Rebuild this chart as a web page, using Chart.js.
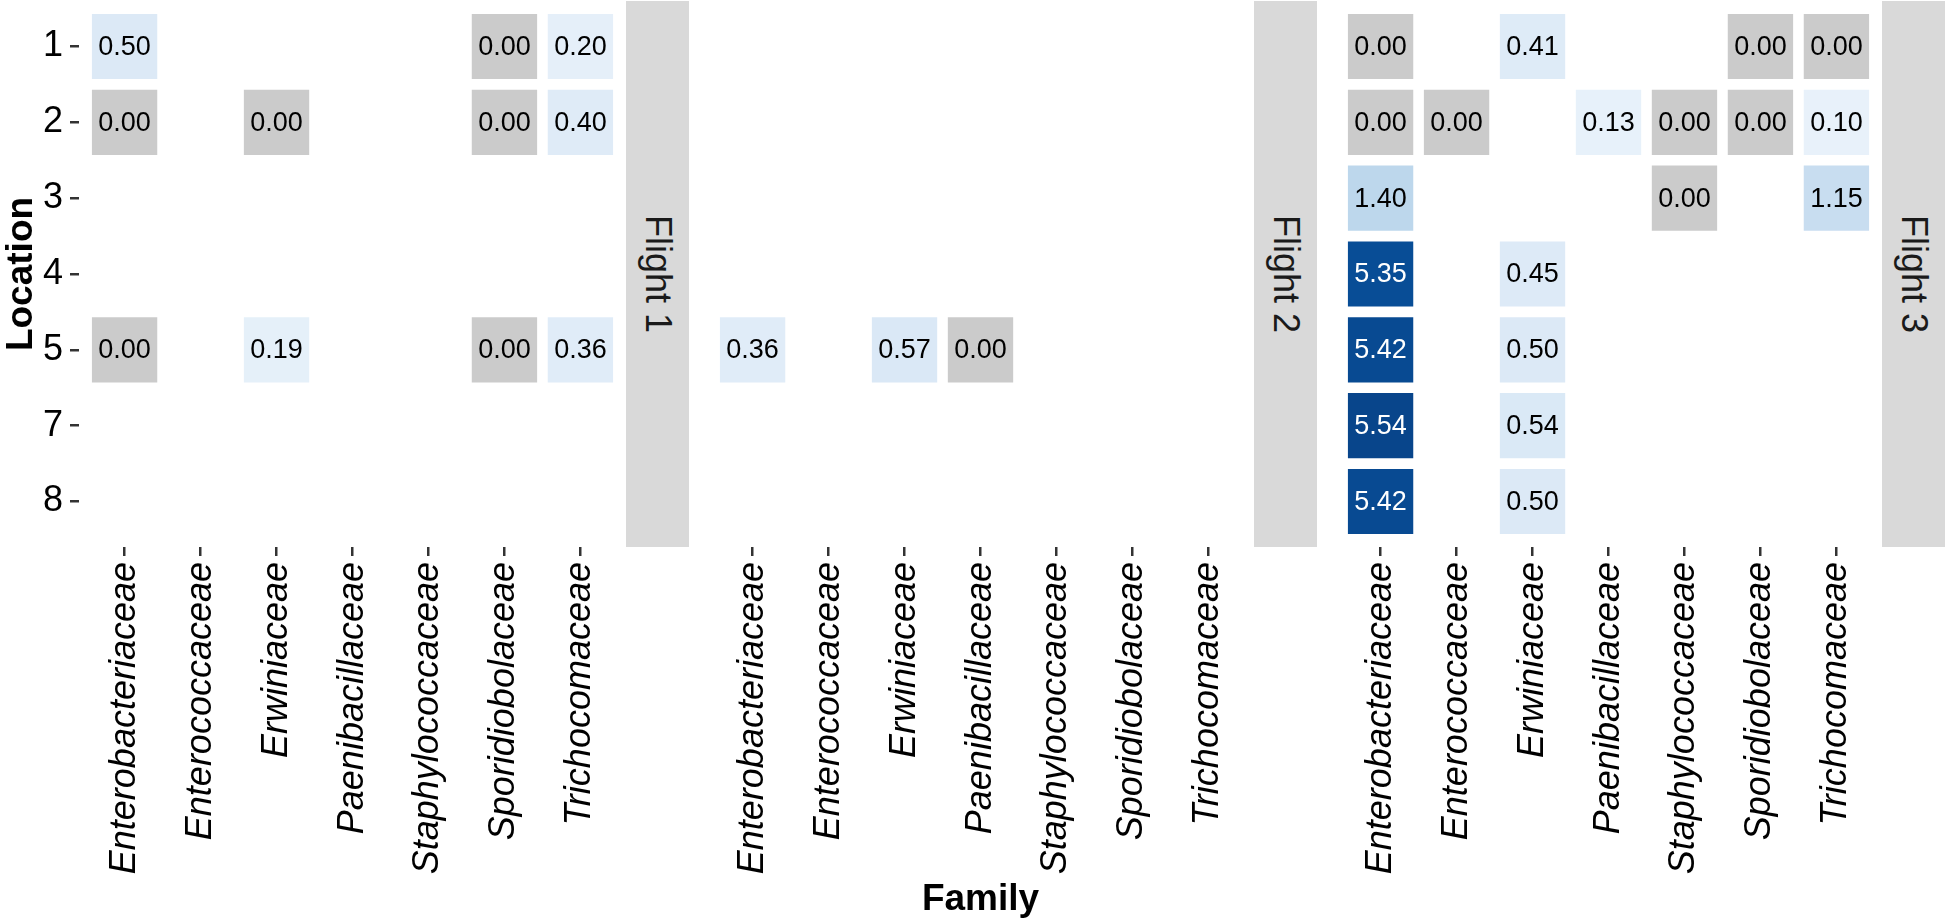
<!DOCTYPE html>
<html>
<head>
<meta charset="utf-8">
<script src="https://cdn.jsdelivr.net/npm/chart.js@4"></script>
<style>
  html, body { margin: 0; padding: 0; background: #fff; }
  #wrap { position: relative; width: 1951px; height: 924px; overflow: hidden; }
  canvas { position: absolute; top: 0; }
  .strip {
    position: absolute; top: 1px; height: 546px; width: 63px;
    background: #d9d9d9; color: #1a1a1a;
    font-family: "Liberation Sans", Arial, sans-serif; font-size: 36px;
    display: flex; align-items: center; justify-content: center;
    writing-mode: vertical-rl;
  }
</style>
</head>
<body>
<div id="wrap">
  <canvas id="c1" width="626" height="924" style="left:0px"></canvas>
  <canvas id="c2" width="547" height="924" style="left:707px"></canvas>
  <canvas id="c3" width="547" height="924" style="left:1335px"></canvas>
  <div class="strip" style="left:626px">Flight 1</div>
  <div class="strip" style="left:1254px">Flight 2</div>
  <div class="strip" style="left:1882px">Flight 3</div>
</div>
<script>
const families = ['Enterobacteriaceae', 'Enterococcaceae', 'Erwiniaceae', 'Paenibacillaceae',
  'Staphylococcaceae', 'Sporidiobolaceae', 'Trichocomaceae'];
const locations = ['1', '2', '3', '4', '5', '7', '8'];

const flight1Family = ['Enterobacteriaceae', 'Sporidiobolaceae', 'Trichocomaceae',
  'Enterobacteriaceae', 'Erwiniaceae', 'Sporidiobolaceae', 'Trichocomaceae',
  'Enterobacteriaceae', 'Erwiniaceae', 'Sporidiobolaceae', 'Trichocomaceae'];
const flight1Location = ['1', '1', '1', '2', '2', '2', '2', '5', '5', '5', '5'];
const flight1Value = [0.50, 0.00, 0.20, 0.00, 0.00, 0.00, 0.40, 0.00, 0.19, 0.00, 0.36];

const flight2Family = ['Enterobacteriaceae', 'Erwiniaceae', 'Paenibacillaceae'];
const flight2Location = ['5', '5', '5'];
const flight2Value = [0.36, 0.57, 0.00];

const flight3Family = ['Enterobacteriaceae', 'Erwiniaceae', 'Sporidiobolaceae', 'Trichocomaceae',
  'Enterobacteriaceae', 'Enterococcaceae', 'Paenibacillaceae', 'Staphylococcaceae', 'Sporidiobolaceae', 'Trichocomaceae',
  'Enterobacteriaceae', 'Staphylococcaceae', 'Trichocomaceae',
  'Enterobacteriaceae', 'Erwiniaceae',
  'Enterobacteriaceae', 'Erwiniaceae',
  'Enterobacteriaceae', 'Erwiniaceae',
  'Enterobacteriaceae', 'Erwiniaceae'];
const flight3Location = ['1', '1', '1', '1', '2', '2', '2', '2', '2', '2', '3', '3', '3',
  '4', '4', '5', '5', '7', '7', '8', '8'];
const flight3Value = [0.00, 0.41, 0.00, 0.00, 0.00, 0.00, 0.13, 0.00, 0.00, 0.10,
  1.40, 0.00, 1.15, 5.35, 0.45, 5.42, 0.50, 5.54, 0.54, 5.42, 0.50];

const FONT = '"Liberation Sans", Arial, sans-serif';
const blues = ['#f7fbff', '#deebf7', '#c6dbef', '#9ecae1', '#6baed6', '#4292c6', '#2171b5', '#08519c', '#08306b'];

function hexToRgb(h) {
  return [parseInt(h.slice(1, 3), 16), parseInt(h.slice(3, 5), 16), parseInt(h.slice(5, 7), 16)];
}

// grey for zero, otherwise a Blues ramp
function fillFor(v) {
  if (v === 0) return '#cbcbcb';
  const t = Math.min(1, 0.06 + 0.155 * v) * (blues.length - 1);
  const i = Math.min(Math.floor(t), blues.length - 2);
  const f = t - i;
  const a = hexToRgb(blues[i]), b = hexToRgb(blues[i + 1]);
  const c = a.map((x, k) => Math.round(x + (b[k] - x) * f));
  return `rgb(${c[0]},${c[1]},${c[2]})`;
}

const cellLabels = {
  id: 'cellLabels',
  afterDatasetsDraw(chart) {
    const ctx = chart.ctx;
    const ds = chart.data.datasets[0];
    chart.getDatasetMeta(0).data.forEach((bar, i) => {
      const v = ds.data[i].v;
      ctx.save();
      ctx.font = '27px ' + FONT;
      ctx.fillStyle = v > 3 ? '#ffffff' : '#000000';
      ctx.textAlign = 'center';
      ctx.textBaseline = 'middle';
      ctx.fillText(v.toFixed(2), bar.x, (bar.y + bar.base) / 2 + 1);
      ctx.restore();
    });
  }
};

function makeChart(id, fam, loc, val, showY, showTitle) {
  const cells = val.map((v, i) => {
    const r = locations.indexOf(loc[i]) + 1;
    return { x: families.indexOf(fam[i]) + 1, y: [r - 0.43, r + 0.43], v: v };
  });
  return new Chart(document.getElementById(id), {
    type: 'bar',
    data: {
      datasets: [{
        data: cells,
        backgroundColor: ctx => fillFor(ctx.raw.v),
        borderWidth: 0,
        barPercentage: 0.86,
        categoryPercentage: 1
      }]
    },
    options: {
      responsive: false,
      animation: false,
      layout: { padding: { top: 1, left: 0, right: 0, bottom: 0 } },
      plugins: { legend: { display: false }, tooltip: { enabled: false } },
      scales: {
        x: {
          type: 'linear',
          offset: false,
          min: 0.4,
          max: 7.6,
          afterBuildTicks: s => { s.ticks = families.map((_, i) => ({ value: i + 1 })); },
          afterFit: s => { s.height = 377; s.paddingLeft = 0; s.paddingRight = 0; },
          ticks: {
            includeBounds: false,
            autoSkip: false,
            minRotation: 90,
            maxRotation: 90,
            padding: 6,
            color: '#000',
            font: { family: FONT, size: 36, style: 'italic' },
            callback: v => families[v - 1]
          },
          grid: { offset: false, drawOnChartArea: false, drawTicks: true, tickLength: 9, tickColor: '#333333', lineWidth: 2.5 },
          border: { display: false },
          title: {
            display: showTitle,
            text: 'Family',
            color: '#000',
            padding: { top: 0, bottom: 2 },
            font: { family: FONT, size: 37, weight: 'bold' }
          }
        },
        y: {
          type: 'linear',
          display: showY,
          reverse: true,
          min: 0.4,
          max: 7.6,
          afterBuildTicks: s => { s.ticks = locations.map((_, i) => ({ value: i + 1 })); },
          afterFit: s => {
            s.width = showY ? 79 : 0;
            s.paddingTop = 0;
            s.paddingBottom = 0;
          },
          ticks: {
            includeBounds: false,
            autoSkip: false,
            padding: 7,
            color: '#000',
            font: { family: FONT, size: 36 },
            callback: v => locations[v - 1]
          },
          grid: { drawOnChartArea: false, drawTicks: true, tickLength: 9, tickColor: '#333333', lineWidth: 2.5 },
          border: { display: false },
          title: {
            display: true,
            text: 'Location',
            color: '#000',
            padding: { top: 0, bottom: 0 },
            font: { family: FONT, size: 37, weight: 'bold' }
          }
        }
      }
    },
    plugins: [cellLabels]
  });
}

makeChart('c1', flight1Family, flight1Location, flight1Value, true, false);
makeChart('c2', flight2Family, flight2Location, flight2Value, false, true);
makeChart('c3', flight3Family, flight3Location, flight3Value, false, false);
</script>
</body>
</html>
